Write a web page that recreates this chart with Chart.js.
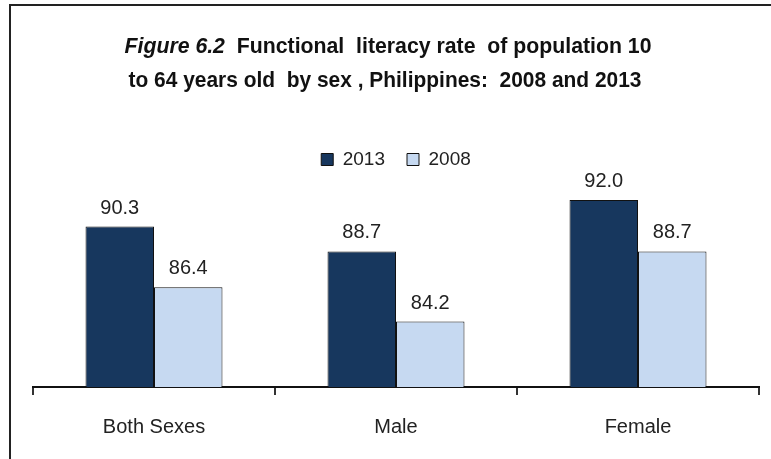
<!DOCTYPE html>
<html>
<head>
<meta charset="utf-8">
<script src="https://cdn.jsdelivr.net/npm/chart.js@4.4.0/dist/chart.umd.min.js"></script>
<style>
	html, body { margin: 0; padding: 0; background: #fff; }
	#wrap { width: 771px; height: 459px; }
</style>
</head>
<body>
<div id="wrap"><canvas id="literacyChart" width="771" height="459"></canvas></div>
<script>
// Dados do gráfico
const categories = ['Both Sexes', 'Male', 'Female'];
const years = ['2013', '2008'];
const rate2013 = [90.3, 88.7, 92.0];
const rate2008 = [86.4, 84.2, 88.7];
const titleLine1 = [['Figure 6.2', 'italic bold'], ['  Functional  literacy rate  of population 10', 'bold']];
const titleLine2 = [['to 64 years old  by sex , Philippines:  2008 and 2013', 'bold']];

const fontFamily = '"Liberation Sans", Arial, sans-serif';

// desenha uma linha do título com partes em itálico, comprimida na largura alvo
const drawTitleLine = (ctx, parts, cx, y, targetWidth, size) => {
	let widths = parts.map(p => {
		ctx.font = `${p[1]} ${size}px ${fontFamily}`;
		return ctx.measureText(p[0]).width;
	});
	let total = widths.reduce((a, b) => a + b, 0);
	let s = targetWidth / total;
	ctx.save();
	ctx.translate(cx - targetWidth / 2, y);
	ctx.scale(s, 1);
	let x = 0;
	parts.forEach((p, i) => {
		ctx.font = `${p[1]} ${size}px ${fontFamily}`;
		ctx.fillText(p[0], x, 0);
		x += widths[i];
	});
	ctx.restore();
};

const framePlugin = {
	id: 'frameAndTitle',
	beforeDraw(chart) {
		let ctx = chart.ctx;
		ctx.save();
		ctx.strokeStyle = '#222';
		ctx.lineWidth = 2;
		ctx.strokeRect(10, 5, 800, 500);
		ctx.fillStyle = '#111';
		ctx.textBaseline = 'alphabetic';
		drawTitleLine(ctx, titleLine1, 388, 53, 527, 22);
		drawTitleLine(ctx, titleLine2, 385, 87, 513, 22);
		ctx.restore();
	}
};

const valueLabels = {
	id: 'valueLabels',
	afterDatasetsDraw(chart) {
		let ctx = chart.ctx;
		ctx.save();
		ctx.font = `20px ${fontFamily}`;
		ctx.fillStyle = '#222';
		ctx.textAlign = 'center';
		ctx.textBaseline = 'alphabetic';
		chart.data.datasets.forEach((ds, i) => {
			chart.getDatasetMeta(i).data.forEach((bar, j) => {
				ctx.fillText(ds.data[j].toFixed(1), bar.x, bar.y - 13);
			});
		});
		ctx.restore();
	}
};

const createChart = (contextId, chartType, chartData, chartOptions, plugins) => {
	let ctx = document.getElementById(contextId).getContext('2d');
	return new Chart(ctx, {
		type: chartType,
		data: chartData,
		options: chartOptions,
		plugins: plugins
	});
};

let chartData = {
	labels: categories,
	datasets: [{
		label: years[0],
		data: rate2013,
		backgroundColor: '#17375E',
		borderColor: '#111',
		borderWidth: 1
	}, {
		label: years[1],
		data: rate2008,
		backgroundColor: '#C6D9F1',
		borderColor: '#111',
		borderWidth: 1
	}]
};

let chartOptions = {
	responsive: false,
	animation: false,
	layout: { padding: { top: 128, left: 33, right: 12, bottom: 0 } },
	plugins: {
		legend: {
			position: 'top',
			labels: {
				boxWidth: 12,
				boxHeight: 12,
				padding: 22,
				color: '#222',
				font: { family: fontFamily, size: 19 }
			}
		},
		tooltip: { enabled: false }
	},
	datasets: {
		bar: { categoryPercentage: 0.566, barPercentage: 1 }
	},
	scales: {
		x: {
			border: { display: true, color: '#111', width: 2 },
			grid: { offset: true, drawOnChartArea: false, drawTicks: true, tickLength: 8, color: '#333', lineWidth: 2 },
			ticks: { color: '#222', padding: 20, font: { family: fontFamily, size: 20 } }
		},
		y: {
			display: false,
			min: 80,
			max: 93.35
		}
	}
};

createChart('literacyChart', 'bar', chartData, chartOptions, [framePlugin, valueLabels]);
</script>
</body>
</html>
